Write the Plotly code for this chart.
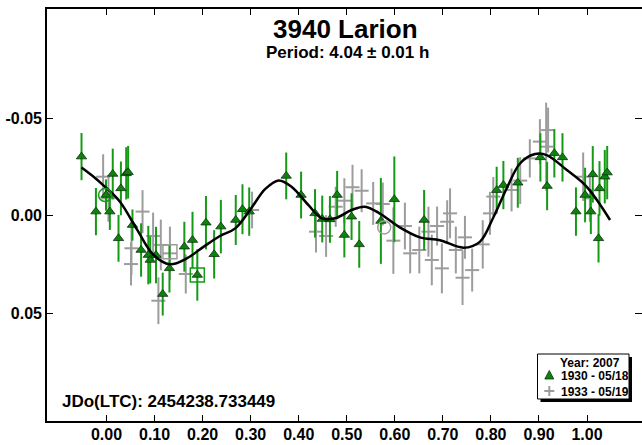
import plotly.graph_objects as go

# ---------------- data ----------------
# Series 1930 - 05/18 (green triangles)
ph_1930 = [-0.052, -0.022, -0.001, 0.007, 0.013, 0.025, 0.030, 0.041, 0.045, 0.054,
           0.072, 0.087, 0.091, 0.103, 0.117, 0.131, 0.162, 0.179, 0.189, 0.207,
           0.224, 0.238, 0.269, 0.283, 0.297, 0.374, 0.405, 0.434, 0.449, 0.465,
           0.480, 0.495, 0.510, 0.526, 0.571, 0.599, 0.661, 0.812, 0.826, 0.856,
           0.903, 0.917, 0.932, 0.949, 0.977, 0.996, 1.008, 1.012, 1.024, 1.026,
           1.037, 1.042]
mag_1930 = [-0.0302, -0.0020, -0.0105, -0.0020, -0.0213, 0.0117, -0.0139, -0.0216, -0.0222, 0.0049,
            0.0177, 0.0203, 0.0228, 0.0203, 0.0403, 0.0271, 0.0160, 0.0126, 0.0305, 0.0037,
            0.0199, 0.0057, 0.0023, -0.0032, -0.0020, -0.0203, -0.0105, -0.0011, 0.0018, 0.0020,
            -0.0105, 0.0100, 0.0006, 0.0148, 0.0028, -0.0083, 0.0023, -0.0130, -0.0156, -0.0168,
            -0.0298, -0.0151, -0.0319, -0.0298, -0.0020, -0.0105, -0.0020, -0.0211, 0.0117, -0.0139,
            -0.0199, -0.0220]
err_1930 = [0.0121, 0.0121, 0.0080, 0.0094, 0.0130, 0.0120, 0.0138, 0.0134, 0.0135, 0.0080,
            0.0137, 0.0150, 0.0120, 0.0145, 0.0110, 0.0124, 0.0128, 0.0145, 0.0132, 0.0137,
            0.0124, 0.0137, 0.0128, 0.0128, 0.0124, 0.0120, 0.0120, 0.0124, 0.0120, 0.0120,
            0.0124, 0.0115, 0.0120, 0.0120, 0.0220, 0.0220, 0.0154, 0.0120, 0.0124, 0.0128,
            0.0124, 0.0124, 0.0124, 0.0124, 0.0124, 0.0140, 0.0115, 0.0145, 0.0124, 0.0140,
            0.0137, 0.0137]

# Series 1933 - 05/19 (gray crosses)
ph_1933 = [-0.007, 0.004, 0.051, 0.052, 0.075, 0.097, 0.108, 0.113, 0.132, 0.165,
           0.303, 0.436, 0.457, 0.477, 0.495, 0.512, 0.531, 0.555, 0.575, 0.597,
           0.621, 0.632, 0.651, 0.670, 0.677, 0.688, 0.698, 0.709, 0.715, 0.727,
           0.741, 0.746, 0.761, 0.783, 0.798, 0.805, 0.843, 0.861, 0.881, 0.902,
           0.915, 0.919, 0.992, 1.006]
mag_1933 = [-0.0199, -0.0088, 0.0249, 0.0168, -0.0020, 0.0105, 0.0437, 0.0151, 0.0194, 0.0300,
            -0.0028, 0.0083, 0.0105, -0.0045, -0.0076, -0.0145, -0.0127, -0.0062, -0.0059, 0.0129,
            0.0054, 0.0194, 0.0177, 0.0083, 0.0228, 0.0054, 0.0271, 0.0032, -0.0011, 0.0177,
            0.0319, 0.0112, 0.0280, 0.0148, -0.0011, -0.0097, -0.0131, -0.0179, -0.0293, -0.0379,
            -0.0353, -0.0438, -0.0199, -0.0088]
err_1933 = [0.0115, 0.0120, 0.0110, 0.0137, 0.0110, 0.0120, 0.0120, 0.0130, 0.0137, 0.0100,
            0.0094, 0.0107, 0.0107, 0.0103, 0.0115, 0.0115, 0.0110, 0.0110, 0.0110, 0.0170,
            0.0120, 0.0103, 0.0120, 0.0128, 0.0130, 0.0100, 0.0128, 0.0110, 0.0128, 0.0120,
            0.0140, 0.0110, 0.0110, 0.0124, 0.0110, 0.0100, 0.0110, 0.0120, 0.0098, 0.0115,
            0.0226, 0.0115, 0.0124, 0.0120]

# Fourier fit curve
fit_ph = [-0.052, -0.025, -0.007, 0.028, 0.063, 0.097, 0.132, 0.167, 0.201, 0.236,
          0.268, 0.302, 0.330, 0.358, 0.385, 0.420, 0.448, 0.476, 0.510, 0.538,
          0.569, 0.611, 0.652, 0.694, 0.743, 0.777, 0.805, 0.833, 0.861, 0.892,
          0.916, 0.958, 0.999, 1.048]
fit_mag = [-0.0246, -0.0195, -0.0156, -0.0071, 0.0070, 0.0200, 0.0250, 0.0220, 0.0162, 0.0105,
           0.0066, -0.0040, -0.0135, -0.0180, -0.0148, -0.0054, 0.0014, 0.0014, -0.0028, -0.0045,
           -0.0010, 0.0062, 0.0112, 0.0127, 0.0165, 0.0135, 0.0010, -0.0140, -0.0268, -0.0315,
           -0.0310, -0.0233, -0.0148, 0.0023]

# highlighted points (open markers)
sq_green = ([0.189], [0.0305])
sq_gray = ([0.132], [0.0186])
ci_green = ([-0.003], [-0.0105])
ci_gray = ([0.578], [0.0061])

x_ticks = [0.0, 0.1, 0.2, 0.3, 0.4, 0.5, 0.6, 0.7, 0.8, 0.9, 1.0]
x_ticktext = ["0.00", "0.10", "0.20", "0.30", "0.40", "0.50", "0.60", "0.70", "0.80", "0.90", "1.00"]
y_ticks = [-0.05, 0.0, 0.05]
y_ticktext = ["-0.05", "0.00", "0.05"]

title_text = "3940 Larion"
subtitle_text = "Period: 4.04 ± 0.01 h"
jdo_text = "JDo(LTC): 2454238.733449"
legend_title = "Year: 2007"
name_1930 = "1930 - 05/18"
name_1933 = "1933 - 05/19"

# ---------------- styling ----------------
FONT = "Liberation Sans, Arial, sans-serif"
GREEN_BAR = "#159a15"
GREEN_FILL = "#0a840a"
GRAY = "#9c9c9c"

W, H = 642, 445
L, R, T, B = 46, 0, 8, 23
PW, PH = W - L - R, H - T - B


def px(x):
    return (x - L) / PW


def py(y):
    return (H - B - y) / PH


fig = go.Figure()

fig.add_trace(go.Scatter(
    x=ph_1933, y=mag_1933, mode="markers", name=name_1933, showlegend=False,
    error_y=dict(type="data", array=err_1933, color=GRAY, thickness=2, width=0),
    marker=dict(symbol="line-ew", size=10, color=GRAY, line=dict(color=GRAY, width=2)),
))
fig.add_trace(go.Scatter(
    x=ph_1930, y=mag_1930, mode="markers", name=name_1930, showlegend=False,
    error_y=dict(type="data", array=err_1930, color=GREEN_BAR, thickness=2, width=0),
    marker=dict(symbol="triangle-up", size=9, color=GREEN_FILL, line=dict(color="#103010", width=0.8)),
))
fig.add_trace(go.Scatter(
    x=fit_ph, y=fit_mag, mode="lines", showlegend=False,
    line=dict(color="black", width=2.5, shape="spline", smoothing=1.0),
))
for (xs, ys), sym, col, sz in [(sq_green, "square-open", GREEN_BAR, 14),
                               (sq_gray, "square-open", GRAY, 14),
                               (ci_green, "circle-open", GREEN_BAR, 13),
                               (ci_gray, "circle-open", GRAY, 13)]:
    fig.add_trace(go.Scatter(x=xs, y=ys, mode="markers", showlegend=False,
                             marker=dict(symbol=sym, size=sz, color=col, line=dict(color=col, width=1.5))))

x_left = (L - 106.5) / 480.5
x_right = (W - R - 106.5) / 480.5
y_top = (T - 215.5) / 1950.0
y_bot = (H - B - 215.5) / 1950.0

tickfont = dict(family=FONT, size=16, color="black", weight="bold")
fig.update_layout(
    width=W, height=H, margin=dict(l=L, r=R, t=T, b=B, pad=0, autoexpand=False),
    paper_bgcolor="white", plot_bgcolor="white",
    showlegend=False,
    xaxis=dict(range=[x_left, x_right], tickvals=x_ticks, ticktext=x_ticktext,
               ticks="inside", ticklen=7, tickwidth=1, tickcolor="black",
               showline=False, mirror=False, showgrid=False, zeroline=False,
               tickfont=tickfont, ticklabelstandoff=1, automargin=False),
    xaxis2=dict(range=[x_left, x_right], tickvals=x_ticks, ticktext=x_ticktext,
                overlaying="x", side="top", anchor="y",
                ticks="inside", ticklen=7, tickwidth=1, tickcolor="black",
                showline=False, showgrid=False, zeroline=False, automargin=False,
                ticklabelstandoff=4,
                tickfont=dict(family=FONT, size=16, color="#888888", weight="bold")),
    yaxis=dict(range=[y_bot, y_top], tickvals=y_ticks, ticktext=y_ticktext,
               ticks="inside", ticklen=7, tickwidth=1, tickcolor="black",
               showline=False, mirror="ticks", showgrid=False, zeroline=False,
               tickfont=tickfont, ticklabelstandoff=3, automargin=False),
)
# dummy trace to activate the top axis
fig.add_trace(go.Scatter(x=[x_left], y=[y_top], xaxis="x2", mode="markers",
                         marker=dict(opacity=0), showlegend=False, hoverinfo="skip"))

shapes = []
# plot frame (right edge falls just outside the picture)
shapes.append(dict(type="rect", xref="paper", yref="paper",
                   x0=px(L), x1=px(644), y0=py(H - B), y1=py(T),
                   line=dict(color="black", width=2), fillcolor="rgba(0,0,0,0)"))
# legend box with shadow
bx0, bx1, by0, by1 = 537.5, 629, 354, 399
shapes.append(dict(type="rect", xref="paper", yref="paper",
                   x0=px(bx0 + 3), x1=px(bx1 + 3), y0=py(by1 + 3), y1=py(by0 + 3),
                   line=dict(width=0), fillcolor="black"))
shapes.append(dict(type="rect", xref="paper", yref="paper",
                   x0=px(bx0), x1=px(bx1), y0=py(by1), y1=py(by0),
                   line=dict(color="black", width=1), fillcolor="white"))
# legend icons
tx, ty = 549.3, 375
path = "M {} {} L {} {} L {} {} Z".format(px(tx - 4.5), py(ty + 4), px(tx + 4.5), py(ty + 4), px(tx), py(ty - 4.5))
shapes.append(dict(type="path", xref="paper", yref="paper", path=path,
                   fillcolor=GREEN_FILL, line=dict(color="#103010", width=0.8)))
cx, cy = 549.3, 391
shapes.append(dict(type="line", xref="paper", yref="paper", x0=px(cx - 5), x1=px(cx + 5),
                   y0=py(cy), y1=py(cy), line=dict(color=GRAY, width=2)))
shapes.append(dict(type="line", xref="paper", yref="paper", x0=px(cx), x1=px(cx),
                   y0=py(cy - 5), y1=py(cy + 5), line=dict(color=GRAY, width=2)))
fig.update_layout(shapes=shapes)

ann = []
ann.append(dict(text=title_text, x=px(345.5), y=py(29), xref="paper", yref="paper",
                showarrow=False, xanchor="center", yanchor="middle",
                font=dict(family=FONT, size=26, color="black", weight="bold")))
ann.append(dict(text=subtitle_text, x=px(347.5), y=py(52.5), xref="paper", yref="paper",
                showarrow=False, xanchor="center", yanchor="middle",
                font=dict(family=FONT, size=17, color="black", weight="bold")))
ann.append(dict(text=jdo_text, x=px(60), y=py(401), xref="paper", yref="paper",
                showarrow=False, xanchor="left", yanchor="middle",
                font=dict(family=FONT, size=17, color="black", weight="bold")))
ann.append(dict(text=legend_title, x=px(590), y=py(362), xref="paper", yref="paper",
                showarrow=False, xanchor="center", yanchor="middle", height=13,
                font=dict(family=FONT, size=12, color="black", weight="bold")))
ann.append(dict(text=name_1930, x=px(558.5), y=py(375.5), xref="paper", yref="paper",
                showarrow=False, xanchor="left", yanchor="middle", height=13,
                font=dict(family=FONT, size=12, color="black", weight="bold")))
ann.append(dict(text=name_1933, x=px(558.5), y=py(391), xref="paper", yref="paper",
                showarrow=False, xanchor="left", yanchor="middle", height=13,
                font=dict(family=FONT, size=12, color="black", weight="bold")))
fig.update_layout(annotations=ann)

fig.write_html("out.html")
